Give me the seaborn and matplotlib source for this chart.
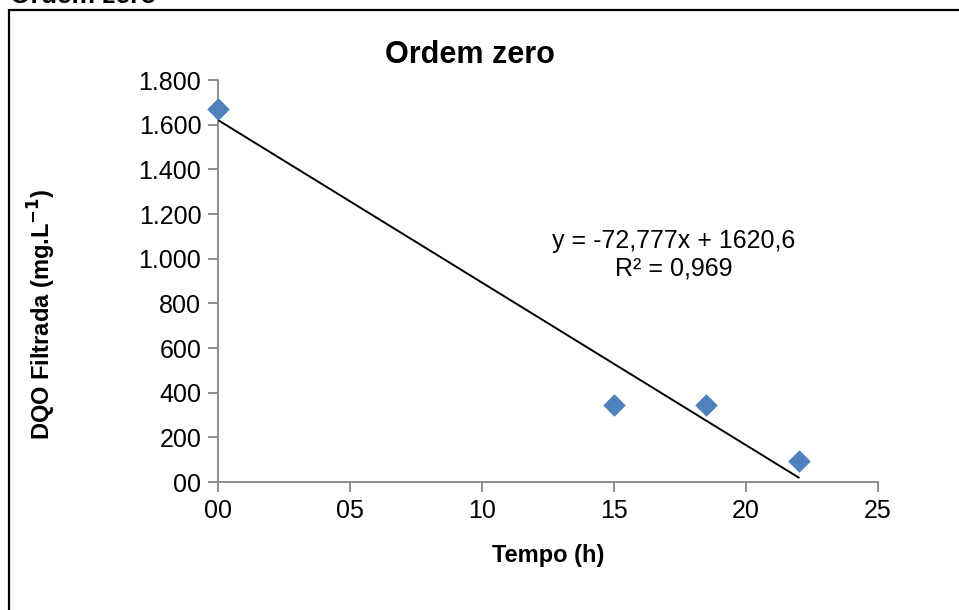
import matplotlib
matplotlib.use("Agg")
import matplotlib.pyplot as plt
import seaborn as sns
import numpy as np
import pandas as pd
from matplotlib.patches import Rectangle

# Data
tempo_h = [0, 15, 18.5, 22]
dqo = [1670, 345, 345, 92]
slope = -72.777
intercept = 1620.6
trend_x = [0, 22]
x_ticks = [0, 5, 10, 15, 20, 25]
x_ticklabels = ["00", "05", "10", "15", "20", "25"]
y_ticks = [0, 200, 400, 600, 800, 1000, 1200, 1400, 1600, 1800]
y_ticklabels = ["00", "200", "400", "600", "800", "1.000", "1.200", "1.400", "1.600", "1.800"]

sns.set_theme(style="white")
plt.rcParams["font.family"] = ["Liberation Sans", "DejaVu Sans"]
plt.rcParams["text.color"] = "black"
plt.rcParams["axes.labelcolor"] = "black"

W, H = 959, 610
fig = plt.figure(figsize=(W / 100, H / 100), dpi=100)
ax = fig.add_axes([218 / W, 1 - 482 / H, (878 - 218) / W, (482 - 80) / H])

df = pd.DataFrame({"Tempo": tempo_h, "DQO": dqo})
tx = np.array(trend_x, dtype=float)
trend = pd.DataFrame({"Tempo": tx, "DQO": slope * tx + intercept})

sns.lineplot(data=trend, x="Tempo", y="DQO", ax=ax, color="black", linewidth=1.4, zorder=2)
sns.scatterplot(data=df, x="Tempo", y="DQO", ax=ax, marker="D", s=120,
                color="#4F81BD", edgecolor="#4F81BD", linewidth=0.5, zorder=3,
                clip_on=False)

ax.set_xlim(0, 25)
ax.set_ylim(0, 1800)
ax.set_xticks(x_ticks)
ax.set_xticklabels(x_ticklabels)
ax.set_yticks(y_ticks)
ax.set_yticklabels(y_ticklabels)

grey = "#868686"
for s in ["top", "right"]:
    ax.spines[s].set_visible(False)
for s in ["left", "bottom"]:
    ax.spines[s].set_color(grey)
    ax.spines[s].set_linewidth(1.3)
    ax.spines[s].set_zorder(1)
ax.tick_params(axis="both", which="major", direction="out", length=7, width=1.3,
               color=grey, labelsize=18, labelcolor="black", pad=5,
               bottom=True, left=True)

ax.set_xlabel("Tempo (h)", fontsize=17, fontweight="bold")
ax.xaxis.set_label_coords((548 - 218) / 660, -(544 - 482) / 402)
ax.set_ylabel("DQO Filtrada (mg.L$^{\\mathbf{-1}}$)", fontsize=17, fontweight="bold")
ax.yaxis.set_label_coords(-(218 - 58) / 660, (482 - 314) / 402)
ax.set_title("Ordem zero", fontsize=22, fontweight="bold", x=(470 - 218) / 660, y=1.0, pad=12)

ax.text(0.69, 0.565, "y = -72,777x + 1620,6\nR² = 0,969", transform=ax.transAxes,
        ha="center", va="center", fontsize=18, linespacing=1.15)

# Outer frame
fig.patches.append(Rectangle((9 / W, -0.05), 1.0, 1 - 10 / H + 0.05, transform=fig.transFigure,
                             fill=False, edgecolor="black", linewidth=1.6, zorder=0))
# Cut-off header text at top-left (as in the reference)
fig.text(10 / W, 1 - 3 / H, "Ordem zero", fontsize=19, fontweight="bold", ha="left", va="baseline")

fig.savefig("out.png", dpi=100)
